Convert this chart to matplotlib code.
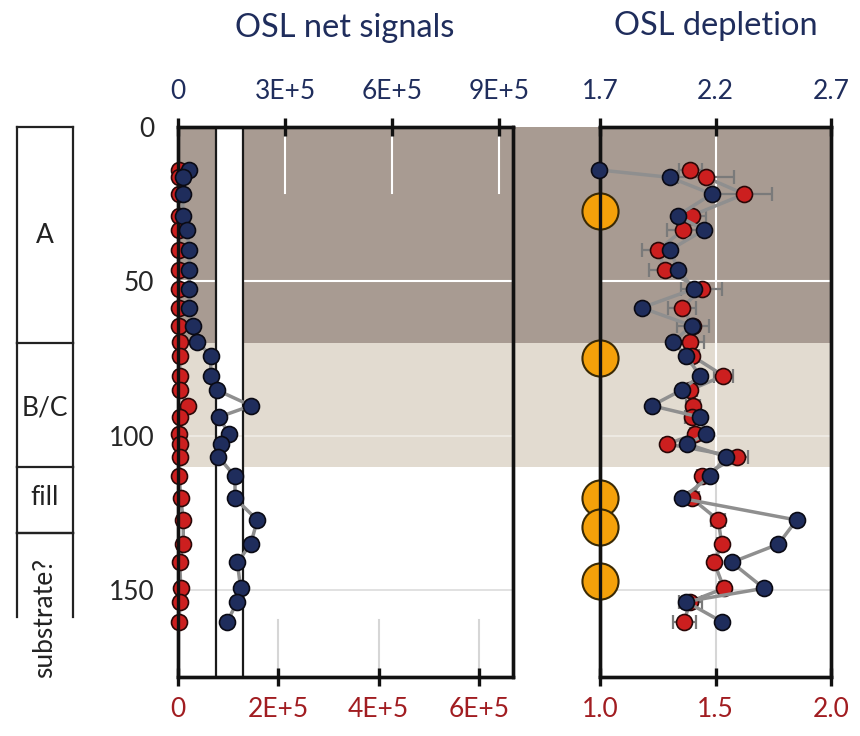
import matplotlib
matplotlib.use("Agg")
import matplotlib.pyplot as plt

plt.rcParams['font.family'] = ['Lato', 'DejaVu Sans']

# ---------------- data ----------------
depth = [13.9, 16.3, 21.7, 28.7, 33.3, 39.8, 46.3, 52.4, 58.5, 64.3, 69.5, 74.0, 80.5, 85.1,
         90.2, 93.9, 99.4, 102.6, 106.7, 113.1, 120.2, 127.2, 135.0, 140.9, 149.3, 153.6, 160.1]

# OSL net signals (left panel)
net_red = [1000, 1000, 1500, 1500, 1500, 1500, 1500, 1500, 1500, 2000, 3500, 3500, 3500, 3500,
           19000, 3500, 2500, 3500, 3500, 2500, 5500, 10500, 10500, 3500, 5500, 3500, 2500]
net_blue = [31700, 13200, 13200, 13200, 24400, 31700, 31700, 31700, 31700, 42900, 54100, 91700,
            91700, 108500, 204600, 114000, 143800, 119700, 113000, 159800, 159800, 222300,
            203800, 166200, 175700, 166200, 138200]

# OSL depletion (right panel)
dep_blue = [1.697, 2.003, 2.184, 2.036, 2.150, 2.003, 2.039, 2.107, 1.881, 2.097, 2.017, 2.072,
            2.133, 2.054, 1.924, 2.133, 2.159, 2.078, 2.245, 2.176, 2.054, 2.551, 2.472, 2.270,
            2.410, 2.072, 2.227]
dep_red = [1.390, 1.459, 1.625, 1.397, 1.361, 1.250, 1.281, 1.440, 1.354, 1.403, 1.390, 1.397,
           1.534, 1.390, 1.404, 1.397, 1.411, 1.291, 1.592, 1.440, 1.397, 1.512, 1.527, 1.494,
           1.537, 1.390, 1.364]
dep_red_err = [0.05, 0.12, 0.12, 0.06, 0.07, 0.07, 0.07, 0.09, 0.06, 0.07, 0.06, 0.03, 0.04, 0.03,
               0.03, 0.03, 0.02, 0.02, 0.05, 0.02, 0.03, 0.03, 0.02, 0.02, 0.02, 0.05, 0.05]

orange_depth = [27.2, 74.9, 120.2, 129.5, 146.8]
orange_x = [1.0, 1.0, 1.0, 1.0, 1.0]

# units / zones
zone_names = ["A", "B/C", "fill", "substrate?"]
zone_tops = [0, 70, 110, 131.5]
zone_bottoms = [70, 110, 131.5, 158.6]
band_limits = [75800, 129000]

top_ticks_L = [0, 3e5, 6e5, 9e5]
top_labels_L = ["0", "3E+5", "6E+5", "9E+5"]
bot_ticks_L = [0, 2e5, 4e5, 6e5]
bot_labels_L = ["0", "2E+5", "4E+5", "6E+5"]
top_ticks_R = [1.7, 2.2, 2.7]
top_labels_R = ["1.7", "2.2", "2.7"]
bot_ticks_R = [1.0, 1.5, 2.0]
bot_labels_R = ["1.0", "1.5", "2.0"]
y_ticks = [0, 50, 100, 150]

# ---------------- style ----------------
NAVY = "#1f2d5c"
DARKRED = "#a11d21"
RED = "#cc1f1f"
BROWN = "#a89b92"
BEIGE = "#e2dbd0"
GRAYLINE = "#8f8f8f"
ORANGE = "#f5a10a"
FS = 19
TFS = 23.5

W, H = 860, 736
fig = plt.figure(figsize=(W / 100, H / 100), dpi=100)
y0, y1 = 127, 677
bottom = 1 - y1 / H
height = (y1 - y0) / H
YMAX = 178

def fx(px):
    return px / W

# background shading spanning both panels
bg = fig.add_axes([fx(178), bottom, fx(831 - 178), height])
bg.set_xlim(0, 1)
bg.set_ylim(YMAX, 0)
bg.axis('off')
bg.axhspan(0, 70, color=BROWN, lw=0)
bg.axhspan(70, 110, color=BEIGE, lw=0)

# ---------------- left panel ----------------
axL = fig.add_axes([fx(178), bottom, fx(513 - 178), height])
axL.set_facecolor('none')
axL.set_xlim(0, 6.68e5)
axL.set_ylim(YMAX, 0)
axL.axvspan(band_limits[0], band_limits[1], color='white', lw=0, zorder=0.5)
for b in band_limits:
    axL.axvline(b, color='#1a1a1a', lw=1.6, zorder=1.2)
axL.axhline(50, color='white', lw=1.5, zorder=1)
axL.axhline(100, color='#f0ece6', lw=1.2, zorder=1)
axL.axhline(150, color='#dcdcdc', lw=1.2, zorder=1)
for t in bot_ticks_L[1:]:
    axL.plot([t, t], [159.5, YMAX], color='#d6d6d6', lw=1.5, zorder=1)
axL.plot(net_red, depth, '-', color=GRAYLINE, lw=2.5, zorder=3)
axL.plot(net_red, depth, 'o', ms=11.5, mfc=RED, mec='#2a0808', mew=1.2, zorder=4, clip_on=False)
axL.set_xticks(bot_ticks_L)
axL.set_xticklabels(bot_labels_L, color=DARKRED, fontsize=FS)
axL.set_yticks(y_ticks)
axL.set_yticklabels([str(v) for v in y_ticks], color='#262626', fontsize=FS)
axL.tick_params(axis='y', length=0, pad=17)
axL.tick_params(axis='x', direction='inout', length=13, width=2.4, color='#111', pad=8)

axLt = axL.twiny()
axLt.set_xlim(0, 9.39e5)
axLt.set_ylim(YMAX, 0)
for t in top_ticks_L[1:]:
    axLt.plot([t, t], [0, 21.4], color='white', lw=1.5, zorder=1)
axLt.plot(net_blue, depth, '-', color=GRAYLINE, lw=2.5, zorder=3)
axLt.plot(net_blue, depth, 'o', ms=11.5, mfc=NAVY, mec='#0a0a14', mew=1.2, zorder=4, clip_on=False)
axLt.set_xticks(top_ticks_L)
axLt.set_xticklabels(top_labels_L, color=NAVY, fontsize=FS)
axLt.tick_params(axis='x', direction='inout', length=13, width=2.4, color='#111', pad=10)

for a in (axL, axLt):
    for s in a.spines.values():
        s.set_linewidth(2.4)
        s.set_color('#111')

# ---------------- right panel ----------------
axR = fig.add_axes([fx(600), bottom, fx(831 - 600), height])
axR.set_facecolor('none')
axR.set_xlim(1.0, 2.0)
axR.set_ylim(YMAX, 0)
axR.plot([1.5, 1.5], [0, 110], color='white', lw=1.5, zorder=1)
axR.plot([1.5, 1.5], [110, YMAX], color='#d6d6d6', lw=1.5, zorder=1)
axR.axhline(50, color='white', lw=1.5, zorder=1)
axR.axhline(100, color='#f0ece6', lw=1.2, zorder=1)
axR.axhline(150, color='#dcdcdc', lw=1.2, zorder=1)
axR.errorbar(dep_red, depth, xerr=dep_red_err, fmt='none', ecolor='#7a7a7a', elinewidth=1.6,
             capsize=5, capthick=1.6, zorder=2.6)
axR.plot(dep_red, depth, '-', color=GRAYLINE, lw=2.5, zorder=2.7)
axR.plot(dep_red, depth, 'o', ms=11.5, mfc=RED, mec='#2a0808', mew=1.2, zorder=3)
axR.plot(orange_x, orange_depth, 'o', ms=26, mfc=ORANGE, mec='#3a2a05', mew=1.5, zorder=4,
         clip_on=False)
axR.set_xticks(bot_ticks_R)
axR.set_xticklabels(bot_labels_R, color=DARKRED, fontsize=FS)
axR.set_yticks([])
axR.tick_params(axis='x', direction='inout', length=13, width=2.4, color='#111', pad=8)

axRt = axR.twiny()
axRt.set_xlim(1.7, 2.7)
axRt.set_ylim(YMAX, 0)
axRt.plot(dep_blue, depth, '-', color=GRAYLINE, lw=2.5, zorder=3)
axRt.plot(dep_blue, depth, 'o', ms=11.5, mfc=NAVY, mec='#0a0a14', mew=1.2, zorder=4, clip_on=False)
axRt.set_xticks(top_ticks_R)
axRt.set_xticklabels(top_labels_R, color=NAVY, fontsize=FS)
axRt.tick_params(axis='x', direction='inout', length=13, width=2.4, color='#111', pad=10)

for a in (axR, axRt):
    for s in a.spines.values():
        s.set_linewidth(2.4)
        s.set_color('#111')

# titles
fig.text(fx(345), 1 - 28 / H, "OSL net signals", ha='center', va='center', color=NAVY, fontsize=TFS)
fig.text(fx(716), 1 - 26 / H, "OSL depletion", ha='center', va='center', color=NAVY, fontsize=TFS)

# ---------------- stratigraphic column ----------------
col = fig.add_axes([0, bottom, fx(178), height])
col.set_xlim(0, 178)
col.set_ylim(YMAX, 0)
col.axis('off')
xl, xr = 17, 73
for top_, bot_ in zip(zone_tops, zone_bottoms):
    col.plot([xl, xl], [top_, bot_], color='#222', lw=1.6, clip_on=False)
    col.plot([xr, xr], [top_, bot_], color='#222', lw=1.6, clip_on=False)
    col.plot([xl, xr], [top_, top_], color='#222', lw=1.6, clip_on=False)
col.plot([xl, xr], [zone_bottoms[2], zone_bottoms[2]], color='#222', lw=1.6)
label_y = [35, 91, 120, 159]
for name, ly in zip(zone_names, label_y):
    rot = 90 if name == "substrate?" else 0
    col.text(45, ly, name, ha='center', va='center', fontsize=FS, color='#222', rotation=rot,
             clip_on=False)

fig.savefig("out.png", dpi=100)
